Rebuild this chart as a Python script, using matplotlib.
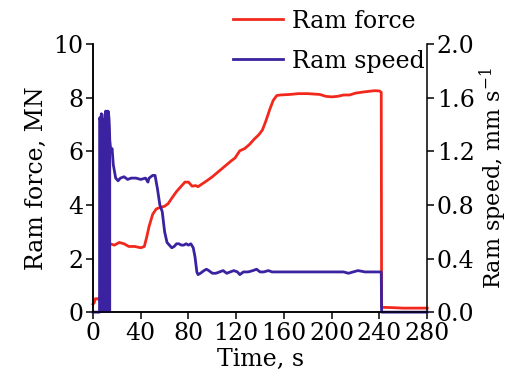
import matplotlib.pyplot as plt

plt.rcParams['font.family'] = ['DejaVu Serif']
plt.rcParams['mathtext.fontset'] = 'dejavuserif'
plt.rcParams['path.simplify'] = False

# --- Data ---
t_force = [0, 1, 2, 4, 5.5, 8, 12, 14, 18, 22, 26, 30, 35, 40, 43, 45, 47, 50, 53,
           56, 60, 63, 66, 70, 74, 77, 80, 83, 86, 88, 92, 96, 100, 104, 108, 112,
           116, 119, 123, 127, 131, 135, 139, 142, 145, 148, 151, 154, 157, 165,
           172, 180, 190, 195, 200, 205, 210, 215, 220, 228, 236, 240, 241.5,
           241.8, 250, 260, 270, 280]
force = [0.3, 0.35, 0.5, 0.5, 0.45, 1.5, 2.5, 2.55, 2.5, 2.6, 2.55, 2.45, 2.45, 2.4,
         2.45, 2.8, 3.2, 3.65, 3.85, 3.9, 3.95, 4.05, 4.25, 4.5, 4.7, 4.85, 4.85,
         4.7, 4.72, 4.68, 4.8, 4.92, 5.05, 5.2, 5.35, 5.5, 5.65, 5.75, 6.02, 6.1,
         6.25, 6.45, 6.62, 6.8, 7.15, 7.55, 7.9, 8.08, 8.1, 8.12, 8.15, 8.15, 8.12,
         8.05, 8.03, 8.05, 8.1, 8.1, 8.17, 8.22, 8.26, 8.25, 8.2, 0.18, 0.17, 0.15,
         0.15, 0.15]

# ram speed; the start-up oscillation (5.6-13.6 s) is a dense band, kept as its top edge
t_speed = [0, 5.5, 5.6, 6.4, 7.0, 7.6, 8.2, 8.8, 9.4, 10.0, 10.6, 11.2, 11.8,
           12.4, 13.0, 13.6, 14, 15, 16, 17, 18, 19, 21, 23, 26, 29, 32, 36, 40,
           44, 46, 47, 50, 52, 54, 56, 58, 60, 62, 64, 66, 68, 70, 72, 74, 76, 78,
           80, 82, 84, 85.5, 87, 88, 90, 93, 95, 97, 100, 103, 106, 109, 112, 115,
           118, 121, 123, 126, 130, 134, 137, 140, 143, 147, 150, 155, 160, 170,
           180, 190, 200, 210, 214, 218, 222, 228, 235, 241.5, 241.8, 250, 280]
speed = [0, 0, 1.45, 1.42, 1.48, 1.38, 1.44, 1.4, 1.35, 1.46, 1.5, 1.42, 1.38,
         1.5, 1.45, 1.3, 1.28, 1.2, 1.22, 1.1, 1.05, 1.0, 0.98, 1.0, 1.01, 0.99,
         1.0, 1.0, 0.99, 1.0, 0.97, 1.0, 1.02, 1.02, 0.92, 0.8, 0.75, 0.6, 0.52,
         0.5, 0.48, 0.49, 0.51, 0.51, 0.5, 0.5, 0.51, 0.5, 0.51, 0.48, 0.41, 0.3,
         0.28, 0.29, 0.31, 0.32, 0.31, 0.29, 0.29, 0.3, 0.31, 0.29, 0.3, 0.31, 0.3,
         0.28, 0.3, 0.3, 0.31, 0.32, 0.3, 0.3, 0.31, 0.3, 0.3, 0.3, 0.3, 0.3, 0.3,
         0.3, 0.3, 0.29, 0.3, 0.31, 0.3, 0.3, 0.3, 0.0, 0.0, 0.0]
band_start, band_end = 5.6, 13.6

x_ticks = [0, 40, 80, 120, 160, 200, 240, 280]
force_ticks = [0, 2, 4, 6, 8, 10]
speed_ticks = [0.0, 0.4, 0.8, 1.2, 1.6, 2.0]

RED = '#f3281c'
BLUE = '#3a22a0'
FS = 17

fig = plt.figure(figsize=(5.11, 3.83), dpi=100)
ax = fig.add_axes([0.182, 0.185, 0.654, 0.70])
ax2 = ax.twinx()

ln1, = ax.plot(t_force, force, color=RED, lw=2.0, clip_on=False, label='Ram force')
ln2, = ax2.plot(t_speed, speed, color=BLUE, lw=2.0, clip_on=False, label='Ram speed')
band = [band_start <= t <= band_end for t in t_speed]
ax2.fill_between(t_speed, 0, speed, where=band, color=BLUE, lw=2.0, edgecolor=BLUE)

ax.set_xlim(0, 280)
ax.set_ylim(0, 10)
ax2.set_ylim(0, 2.0)
ax.set_xticks(x_ticks)
ax.set_yticks(force_ticks)
ax2.set_yticks(speed_ticks)
ax2.set_yticklabels([f'{v:.1f}' for v in speed_ticks])

for a in (ax, ax2):
    a.spines['top'].set_visible(False)
    for s in a.spines.values():
        s.set_linewidth(1.1)
    a.tick_params(direction='out', length=5, width=1.1, labelsize=FS, pad=2)
ax.spines['right'].set_visible(False)

ax.set_xlabel('Time, s', fontsize=FS, labelpad=2)
ax.set_ylabel('Ram force, MN', fontsize=FS, labelpad=4)
ax2.set_ylabel(r'Ram speed, mm s$^{-1}$', fontsize=16, labelpad=2)

fig.legend(handles=[ln1, ln2], loc='upper left', bbox_to_anchor=(0.456, 0.975),
           frameon=False, fontsize=FS, handlelength=2.1, handletextpad=0.4,
           borderpad=0, borderaxespad=0, labelspacing=0.72)

fig.savefig('out.png', dpi=100)
